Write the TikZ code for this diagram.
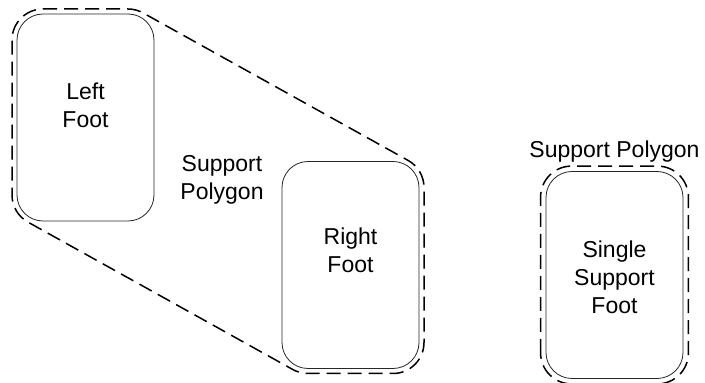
\documentclass[tikz,border=0pt]{standalone}
\usepackage{fontspec}
\setmainfont{Liberation Sans}
\usetikzlibrary{calc}
\tikzset{
  foot/.style={draw=black!85, line width=0.8pt, rounded corners=26pt,
    minimum width=137pt, minimum height=207pt, inner sep=0pt},
  txt/.style={align=center, inner sep=0pt,
    font=\fontsize{23}{28}\selectfont},
  hull/.style={draw=black, line width=1.5pt, dash pattern=on 14pt off 7pt,
    line join=round},
}
\begin{document}
\begin{tikzpicture}[x=1pt, y=1pt]
  \useasboundingbox (0,0) rectangle (705,383);
  \def\R{31}

  % feet
  \node[foot] (lf) at (85.5,265.5) {};
  \node[foot] (rf) at (350.5,118) {};
  \node[foot] (sf) at (614.5,108) {};

  % foot captions
  \node[txt] (lft) at (85.5,278) {Left\\Foot};
  \node[txt] (rft) at (350.5,133) {Right\\Foot};
  \node[txt] (sft) at (614.5,106) {Single\\Support\\Foot};

  % support polygon labels
  \node[txt] (dsl) at (222,203) {Support\\Polygon};
  \node[txt, anchor=base] (ssl) at (614.5,225) {Support Polygon};

  % corner-arc centres of the feet
  \coordinate (A) at ($(lf.center)+(-42.5,77.5)$);
  \coordinate (B) at ($(lf.center)+(42.5,77.5)$);
  \coordinate (F) at ($(lf.center)+(-42.5,-77.5)$);
  \coordinate (C) at ($(rf.center)+(42.5,77.5)$);
  \coordinate (D) at ($(rf.center)+(42.5,-77.5)$);
  \coordinate (E) at ($(rf.center)+(-42.5,-77.5)$);

  % double support polygon: hull of both feet, grown by a margin
  \draw[hull] ($(A)+(0,\R)$) -- ($(B)+(0,\R)$)
    arc[start angle=90, end angle=60.9, radius=\R]
    -- ($(C)+(60.9:\R)$)
    arc[start angle=60.9, end angle=0, radius=\R]
    -- ($(D)+(\R,0)$)
    arc[start angle=0, end angle=-90, radius=\R]
    -- ($(E)+(0,-\R)$)
    arc[start angle=-90, end angle=-119.1, radius=\R]
    -- ($(F)+(-119.1:\R)$)
    arc[start angle=240.9, end angle=180, radius=\R]
    -- ($(A)+(-\R,0)$)
    arc[start angle=180, end angle=90, radius=\R]
    -- cycle;

  % single support polygon
  \draw[hull, rounded corners=\R pt]
    ($(sf.south west)+(-5,-5)$) rectangle ($(sf.north east)+(5,5)$);
\end{tikzpicture}
\end{document}
